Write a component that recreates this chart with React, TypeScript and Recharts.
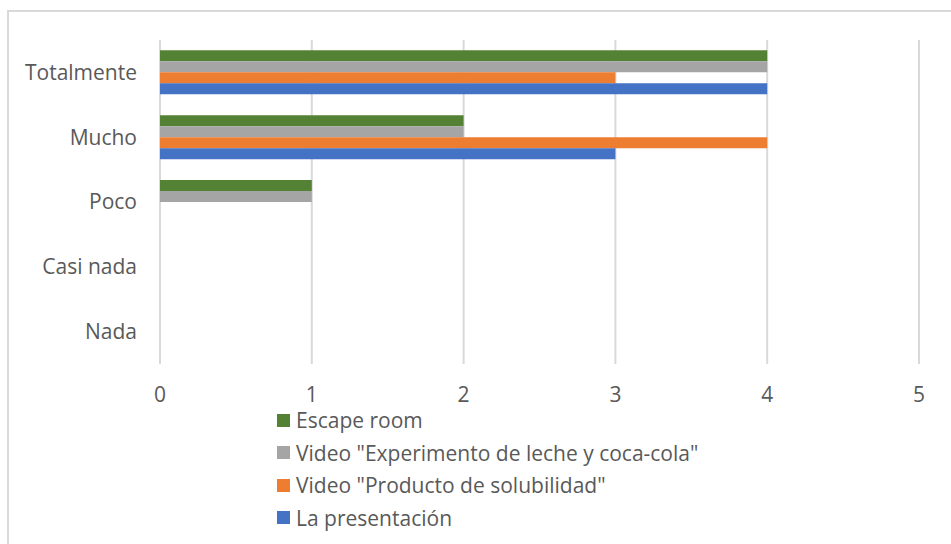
import React from "react";
import {
  Bar,
  BarChart,
  CartesianGrid,
  Legend,
  XAxis,
  YAxis,
} from "recharts";

const categories = ["Totalmente", "Mucho", "Poco", "Casi nada", "Nada"];
const escapeRoom = [4, 2, 1, 0, 0];
const videoLeche = [4, 2, 1, 0, 0];
const videoSolubilidad = [3, 4, 0, 0, 0];
const presentacion = [4, 3, 0, 0, 0];
const xTicks = [0, 1, 2, 3, 4, 5];

const SERIES = [
  { key: "escape", name: "Escape room", color: "#548235" },
  { key: "leche", name: 'Video "Experimento de leche y coca-cola"', color: "#a5a5a5" },
  { key: "solub", name: 'Video "Producto de solubilidad"', color: "#ed7d31" },
  { key: "pres", name: "La presentación", color: "#4472c4" },
];

const data = categories.map((name, i) => ({
  name,
  escape: escapeRoom[i],
  leche: videoLeche[i],
  solub: videoSolubilidad[i],
  pres: presentacion[i],
}));

const FONT = "'Open Sans', 'Noto Sans', sans-serif";
const TEXT = "#595959";

function LegendList() {
  return (
    <div style={{ fontFamily: FONT, fontSize: 21, color: TEXT }}>
      {SERIES.map((s) => (
        <div
          key={s.key}
          style={{ display: "flex", alignItems: "center", height: 32.5, whiteSpace: "nowrap" }}
        >
          <span
            style={{
              display: "inline-block",
              width: 13,
              height: 13,
              background: s.color,
              marginRight: 6,
            }}
          />
          <span>{s.name}</span>
        </div>
      ))}
    </div>
  );
}

export default function App() {
  return (
    <div
      style={{
        position: "absolute",
        left: 0,
        top: 0,
        width: 951,
        height: 544,
        overflow: "hidden",
        background: "#fff",
      }}
    >
      <div
        style={{
          position: "absolute",
          left: 7,
          top: 10,
          width: 1000,
          height: 600,
          border: "2px solid #d9d9d9",
        }}
      />
      <BarChart
        width={951}
        height={544}
        data={data}
        layout="vertical"
        margin={{ top: 40, right: 32, bottom: 140, left: 0 }}
        barCategoryGap="16%"
        barGap={0}
      >
        <CartesianGrid horizontal={false} stroke="#d9d9d9" strokeWidth={2} />
        <XAxis
          type="number"
          domain={[0, 5]}
          ticks={xTicks}
          axisLine={false}
          tickLine={false}
          height={40}
          tickMargin={17}
          tick={{ fill: TEXT, fontSize: 21, fontFamily: FONT }}
        />
        <YAxis
          type="category"
          dataKey="name"
          width={160}
          axisLine={false}
          tickLine={false}
          tickMargin={17}
          tick={{ fill: TEXT, fontSize: 21, fontFamily: FONT }}
        />
        {SERIES.map((s) => (
          <Bar
            key={s.key}
            dataKey={s.key}
            name={s.name}
            fill={s.color}
            isAnimationActive={false}
          />
        ))}
        <Legend
          layout="vertical"
          align="center"
          verticalAlign="middle"
          content={<LegendList />}
          wrapperStyle={{ left: 277, top: 404, width: 520, height: 135 }}
        />
      </BarChart>
    </div>
  );
}
